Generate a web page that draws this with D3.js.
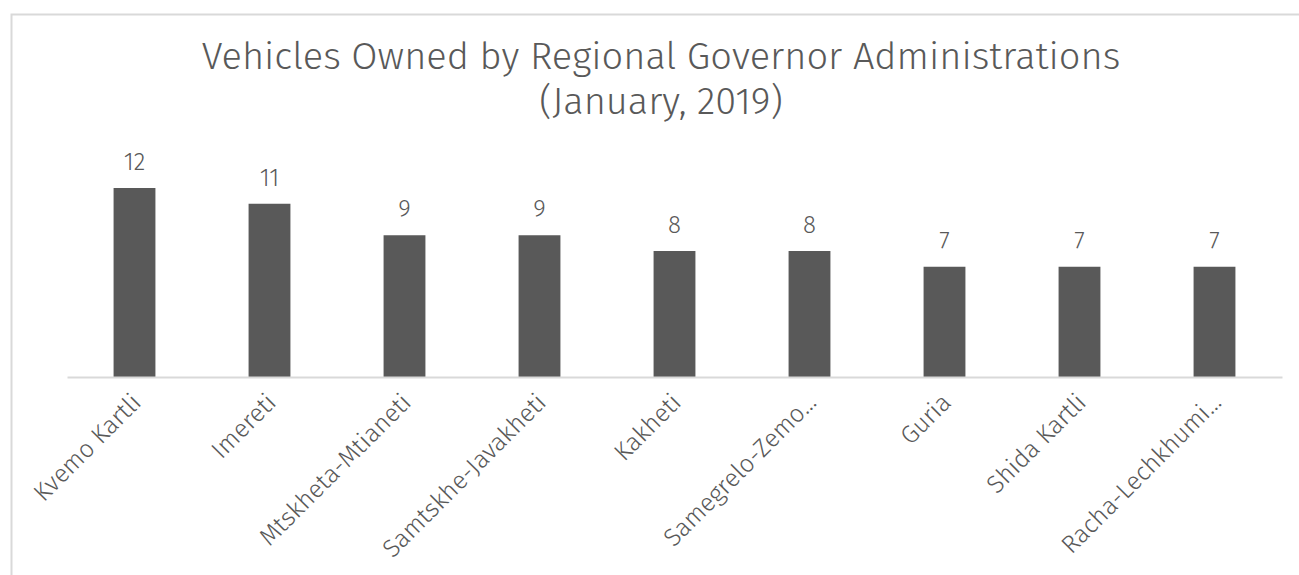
<!DOCTYPE html>
<html>
<head>
<meta charset="utf-8">
<script src="https://cdn.jsdelivr.net/npm/d3@7"></script>
<style>
  body { margin: 0; background: #fff; }
  text { font-family: "Fira Sans", "Open Sans", sans-serif; fill: #595959; }
</style>
</head>
<body>
<div id="chart"></div>
<script>
let regions = ["Kvemo Kartli", "Imereti", "Mtskheta-Mtianeti", "Samtskhe-Javakheti", "Kakheti", "Samegrelo-Zemo…", "Guria", "Shida Kartli", "Racha-Lechkhumi…"];
let vehicles = [12, 11, 9, 9, 8, 8, 7, 7, 7];
let titleLines = ["Vehicles Owned by Regional Governor Administrations", "(January, 2019)"];

let width = 1299, height = 575;
let svg = d3.select("#chart").append("svg").attr("width", width).attr("height", height);

// chart border
svg.append("rect").attr("x", 11.5).attr("y", 14.5).attr("width", 1300).attr("height", 600)
    .attr("fill", "none").attr("stroke", "#d9d9d9").attr("stroke-width", 2);

var x = d3.scaleBand().domain(regions).range([67, 1282]).paddingInner(0.69).paddingOuter(0.345);
var y = d3.scaleLinear().domain([0, 14]).range([377, 156.5]);

// title
svg.selectAll(".title").data(titleLines).enter().append("text")
    .attr("class", "title")
    .attr("x", 661).attr("y", function(d, i){ return 69 + i * 45; })
    .attr("text-anchor", "middle").style("font-size", "38px").style("font-weight", 300)
    .text(function(d){ return d; });

// bars
svg.selectAll(".bar").data(vehicles).enter().append("rect")
    .attr("class", "bar")
    .attr("x", function(d, i){ return x(regions[i]); })
    .attr("y", function(d){ return y(d); })
    .attr("width", x.bandwidth())
    .attr("height", function(d){ return y(0) - y(d); })
    .attr("fill", "#595959");

// value labels
svg.selectAll(".val").data(vehicles).enter().append("text")
    .attr("class", "val")
    .attr("x", function(d, i){ return x(regions[i]) + x.bandwidth() / 2; })
    .attr("y", function(d){ return y(d) - 18; })
    .attr("text-anchor", "middle").style("font-size", "24px").style("font-weight", 300)
    .text(function(d){ return d; });

// x axis
var xAxis = d3.axisBottom(x).tickSize(0).tickPadding(0);
let gx = svg.append("g").attr("transform", "translate(0," + y(0) + ")").call(xAxis);
gx.select(".domain").attr("stroke", "#d9d9d9").attr("stroke-width", 2);
gx.selectAll("text")
    .style("font-size", "25px").style("font-weight", 300).attr("fill", "#595959")
    .attr("text-anchor", "end").attr("dy", 0)
    .attr("transform", "translate(8,27) rotate(-45)");
</script>
</body>
</html>
